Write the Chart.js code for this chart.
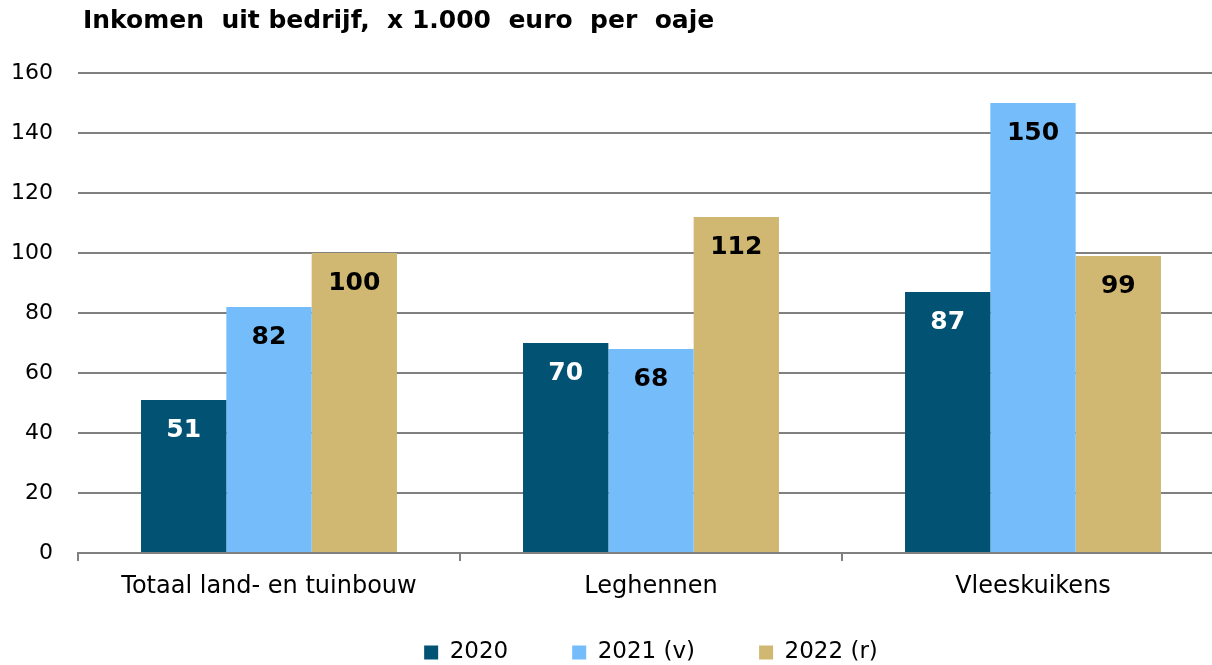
<!DOCTYPE html>
<html>
<head>
<meta charset="utf-8">
<script src="https://cdn.jsdelivr.net/npm/chart.js@4/dist/chart.umd.min.js"></script>
<style>
  html, body { margin:0; padding:0; background:#fff; overflow:hidden; }
  #wrap { position:relative; width:1240px; height:665px; }
</style>
</head>
<body>
<div id="wrap"><canvas id="graph"></canvas></div>
<script>
var categories = ["Totaal land- en tuinbouw", "Leghennen", "Vleeskuikens"];
var seriesNames = ["2020", "2021 (v)", "2022 (r)"];
var values2020 = [51, 70, 87];
var values2021 = [82, 68, 150];
var values2022 = [100, 112, 99];
var yTicks = [0, 20, 40, 60, 80, 100, 120, 140, 160];
var colors = ["#025273", "#75BCFB", "#D0B872"];
var labelColors = ["#ffffff", "#000000", "#000000"];
var titleText = "Inkomen  uit bedrijf,  x 1.000  euro  per  oaje";

// waarde-labels in de balken
var valueLabels = {
  id: "valueLabels",
  afterDatasetsDraw: function(chart) {
    var ctx = chart.ctx;
    ctx.save();
    ctx.font = "bold 25px 'DejaVu Sans'";
    ctx.textAlign = "center";
    ctx.textBaseline = "middle";
    chart.data.datasets.forEach(function(ds, i) {
      chart.getDatasetMeta(i).data.forEach(function(bar, j) {
        ctx.fillStyle = labelColors[i];
        ctx.fillText(String(ds.data[j]), bar.x, bar.y + 30);
      });
    });
    ctx.restore();
  }
};

var titlePlugin = {
  id: "titlePlugin",
  afterDraw: function(chart) {
    var ctx = chart.ctx;
    ctx.save();
    ctx.font = "bold 25px 'DejaVu Sans'";
    ctx.fillStyle = "#000";
    ctx.textBaseline = "middle";
    ctx.fillText(titleText, 83, 21);
    ctx.restore();
  }
};

// legendavak groter maken zodat de items (met grote padding) op y~652 staan
var moveLegend = {
  id: "moveLegend",
  afterLayout: function(chart) {
    var lg = chart.legend;
    lg.top = 641 - 64;
    lg.bottom = chart.height;
    lg.height = lg.bottom - lg.top;
  }
};

new Chart("graph", {
  type: "bar",
  data: {
    labels: categories,
    datasets: [
      { label: seriesNames[0], data: values2020, backgroundColor: colors[0] },
      { label: seriesNames[1], data: values2021, backgroundColor: colors[1] },
      { label: seriesNames[2], data: values2022, backgroundColor: colors[2] }
    ]
  },
  options: {
    responsive: true,
    maintainAspectRatio: false,
    animation: false,
    datasets: { bar: { categoryPercentage: 0.67, barPercentage: 1.0 } },
    layout: { padding: { top: 73, left: 0, right: 16, bottom: 0 } },
    plugins: {
      title: { display: false },
      tooltip: { enabled: false },
      legend: {
        position: "bottom",
        fullSize: false,
        maxHeight: 40,
        labels: {
          font: { family: "'DejaVu Sans'", size: 23 },
          color: "#000",
          boxWidth: 14,
          boxHeight: 14,
          padding: 64
        }
      }
    },
    scales: {
      x: {
        grid: { drawOnChartArea: false, drawTicks: true, tickLength: 8, color: "#808080", lineWidth: 2 },
        border: { display: true, color: "#808080", width: 2 },
        ticks: { font: { family: "'DejaVu Sans'", size: 24 }, color: "#000", padding: 11 },
        afterFit: function(s) { s.height = 72; }
      },
      y: {
        min: 0, max: 160,
        afterBuildTicks: function(s) { s.ticks = yTicks.map(function(v) { return { value: v }; }); },
        grid: { color: "#808080", lineWidth: 2, drawTicks: false },
        border: { display: false },
        ticks: { font: { family: "'DejaVu Sans'", size: 22 }, color: "#000", padding: 25 },
        afterFit: function(s) { s.width = 78; }
      }
    }
  },
  plugins: [valueLabels, titlePlugin, moveLegend]
});
</script>
</body>
</html>
